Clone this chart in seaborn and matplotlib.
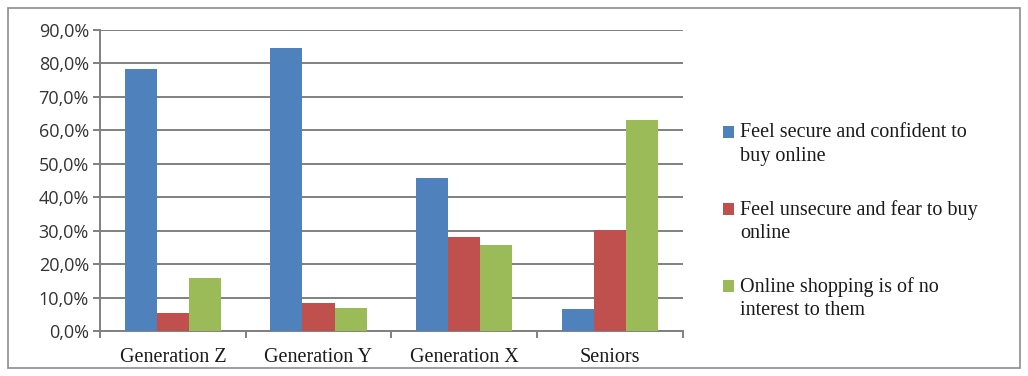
import numpy as np
import pandas as pd
import seaborn as sns
import matplotlib.pyplot as plt
from matplotlib.patches import Rectangle
from matplotlib.ticker import FuncFormatter, FixedLocator

# Data
groups = ['Generation Z', 'Generation Y', 'Generation X', 'Seniors']
series = ['Feel secure and confident to\nbuy online',
          'Feel unsecure and fear to buy\nonline',
          'Online shopping is of no\ninterest to them']
secure = [78.4, 84.7, 45.8, 6.6]
unsecure = [5.4, 8.4, 28.1, 30.2]
no_interest = [15.9, 6.9, 25.7, 63.2]
colors = ['#4F81BD', '#C0504D', '#9BBB59']

df = pd.DataFrame({
    'group': groups * 3,
    'series': [series[0]] * 4 + [series[1]] * 4 + [series[2]] * 4,
    'value': secure + unsecure + no_interest,
})

sns.set_style('white')
fig = plt.figure(figsize=(10.28, 3.76), dpi=100)
ax = fig.add_axes([0.0973, 0.1197, 0.5667, 0.8007])

sns.barplot(data=df, x='group', y='value', hue='series', palette=colors,
            width=0.66, gap=0, saturation=1, linewidth=0, ax=ax, legend=True, zorder=3)

# axes styling
ax.set_ylim(0, 90)
ax.set_xlim(-0.5, 3.5)
ax.set_yticks(np.arange(0, 91, 10))
ax.yaxis.set_major_formatter(FuncFormatter(lambda v, p: f'{v:.1f}%'.replace('.', ',')))
ax.grid(axis='y', color='#808080', linewidth=1.4, zorder=0)
ax.set_axisbelow(True)
ax.set_xlabel('')
ax.set_ylabel('')
for s in ['top', 'right']:
    ax.spines[s].set_visible(False)
for s in ['left', 'bottom']:
    ax.spines[s].set_color('#808080')
    ax.spines[s].set_linewidth(1.4)
ax.tick_params(axis='y', length=5, color='#808080', width=1.4, pad=3,
               labelsize=13, left=True)
for lbl in ax.get_yticklabels():
    lbl.set_family('Open Sans')
    lbl.set_color('#333333')
ax.tick_params(axis='x', which='major', length=0, pad=12, labelsize=14.5)
ax.xaxis.set_minor_locator(FixedLocator([-0.5, 0.5, 1.5, 2.5, 3.5]))
ax.tick_params(axis='x', which='minor', length=5, color='#808080', width=1.4, bottom=True)
for lbl in ax.get_xticklabels():
    lbl.set_family('Liberation Serif')
    lbl.set_color('#1a1a1a')

# legend on the right, outside the plot
handles, labels = ax.get_legend_handles_labels()
ax.legend_.remove()
leg = fig.legend(handles, labels, loc='center left', bbox_to_anchor=(0.686, 0.41),
                 frameon=False, handlelength=0.55, handleheight=0.55, handletextpad=0.3,
                 labelspacing=1.7, prop={'family': 'Liberation Serif', 'size': 14.5})
for t in leg.get_texts():
    t.set_color('#1a1a1a')
    t.set_linespacing(1.3)
# put each marker next to the first line of its label, as in the original
for p in leg.legend_handles:
    p.set_y(p.get_y() + 9)

# outer border of the chart area
fig.patches.append(Rectangle((0.008, 0.02), 0.984, 0.958, transform=fig.transFigure,
                             fill=False, edgecolor='#8c8c8c', linewidth=1.2))

fig.savefig('out.png', dpi=100)
